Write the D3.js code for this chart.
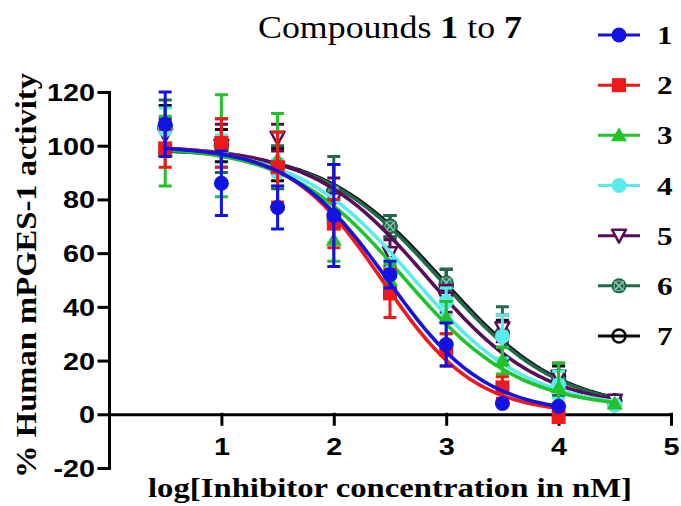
<!DOCTYPE html>
<html>
<head>
<meta charset="utf-8">
<script src="https://cdn.jsdelivr.net/npm/d3@7"></script>
<style>
  body { margin: 0; background: #fff; }
  svg { display: block; }
</style>
</head>
<body>
<svg id="chart" width="681" height="506"></svg>
<script>
// x = log10 of inhibitor concentration (nM)
var logConc = [0.5, 1, 1.5, 2, 2.5, 3, 3.5, 4, 4.5];
var compounds = ["1", "2", "3", "4", "5", "6", "7"];

// mean % activity and error, per compound (1 and 2 stop at 4)
var act1 = [108, 86, 77, 74, 52, 26, 4, 3];
var err1 = [12, 12, 8, 19, 5, 8, 0, 0];
var act2 = [99, 101, 92, 71, 45, 24, 10, -1];
var err2 = [7, 9, 13, 9, 9, 6, 4, 0];
var act3 = [98, 100, 95, 65, 50, 36, 20, 10, 4];
var err3 = [13, 19, 17, 8, 6, 6, 5, 9, 0];
var act4 = [106, 98, 90, 72, 53, 42, 29, 11, 3.5];
var err4 = [8, 6, 5, 8, 5, 5, 8, 5, 0];
var act5 = [104, 100, 103, 80, 60, 43, 32, 14, 5];
var err5 = [6, 8, 5, 8, 5, 5, 5, 5, 0];
var act6 = [107, 100, 92, 83, 70, 49, 30, 13, 3.5];
var err6 = [10, 10, 8, 13, 4, 5, 10, 6, 0];
var act7 = [107, 100, 93, 83, 70, 48, 30, 14, 5];
var err7 = [8, 6, 6, 10, 4, 6, 5, 4, 0];

// sigmoidal fit parameters
var fitTop = [100, 100, 100, 100, 100, 99, 99];
var fitBottom = [0, 0, 2, 2, 2, 1, 1];
var fitLogIC50 = [2.48, 2.43, 2.62, 2.7, 2.83, 2.95, 2.97];
var fitHill = [1.0, 1.05, 0.85, 0.85, 0.85, 0.82, 0.82];

var xTicks = [1, 2, 3, 4, 5];
var yTicks = [-20, 0, 20, 40, 60, 80, 100, 120];

var colors = ["#1212e2", "#f01818", "#22c22a", "#58ecec", "#5a0c5a", "#1d6b4b", "#0a0a0a"];
var shapes = ["circle", "square", "triangle", "circle", "triangleDown", "circleX", "openCircle"];

var acts = [act1, act2, act3, act4, act5, act6, act7];
var errs = [err1, err2, err3, err4, err5, err6, err7];

var svg = d3.select("#chart");
var x = d3.scaleLinear().domain([0, 5]).range([109, 671]);
var y = d3.scaleLinear().domain([-20, 120]).range([468, 92]);

var serif = "'Liberation Serif', 'Times New Roman', serif";
var sans = "'Liberation Sans', Arial, sans-serif";

function fitValue(i, lx){
  return fitBottom[i] + (fitTop[i] - fitBottom[i]) / (1 + Math.pow(10, (lx - fitLogIC50[i]) * fitHill[i]));
}

function drawMarker(g, shape, color, cx, cy){
  var m = g.append("g").attr("transform", "translate(" + cx + "," + cy + ")");
  switch(shape){
    case "circle":
      m.append("circle").attr("r", 7.5).attr("fill", color);
      break;
    case "square":
      m.append("rect").attr("x", -7).attr("y", -7).attr("width", 14).attr("height", 14).attr("fill", color);
      break;
    case "triangle":
      m.append("path").attr("d", "M0,-8L8,6L-8,6Z").attr("fill", color);
      break;
    case "triangleDown":
      m.append("path").attr("d", "M-7,-6L7,-6L0,7Z")
        .attr("fill", "#fff").attr("stroke", color).attr("stroke-width", 2.5).attr("stroke-linejoin", "round");
      break;
    case "circleX":
      m.append("circle").attr("r", 7.5).attr("fill", color);
      m.append("path").attr("d", "M-4.5,-4.5L4.5,4.5M-4.5,4.5L4.5,-4.5")
        .attr("stroke", "#8cc4ab").attr("stroke-width", 1.6);
      m.append("circle").attr("r", 5).attr("fill", "none").attr("stroke", "#8cc4ab").attr("stroke-width", 1);
      break;
    case "openCircle":
      m.append("circle").attr("r", 6.5).attr("fill", "none").attr("stroke", color).attr("stroke-width", 2.5);
      break;
  }
}

// plain hyphen minus like the original, not the unicode minus
var tickFmt = function(d){ return String(d); };

// axes
var yAxis = svg.append("g")
  .attr("transform", "translate(" + x(0) + ",0)")
  .call(d3.axisLeft(y).tickValues(yTicks).tickSize(10).tickSizeOuter(0).tickFormat(tickFmt));
yAxis.selectAll("text")
  .attr("x", null).attr("dy", null)
  .attr("text-anchor", "end")
  .attr("transform", "translate(-14,8.5) scale(1.2,1)")
  .style("font-family", sans).style("font-weight", "bold").style("font-size", "24px").attr("fill", "#000");

var xAxis = svg.append("g")
  .attr("transform", "translate(0," + y(0) + ")")
  .call(d3.axisBottom(x).tickValues(xTicks).tickSize(10).tickSizeOuter(0).tickFormat(tickFmt));
xAxis.selectAll("text")
  .attr("y", null).attr("dy", null)
  .attr("text-anchor", "middle")
  .attr("transform", "translate(0,41) scale(1.2,1)")
  .style("font-family", sans).style("font-weight", "bold").style("font-size", "24px").attr("fill", "#000");

svg.selectAll(".domain, .tick line")
  .attr("stroke", "#000").attr("stroke-width", 3).attr("stroke-linecap", "square");

// series, drawn from 7 down to 1 so compound 1 sits on top
var line = d3.line().x(function(d){ return x(d[0]); }).y(function(d){ return y(d[1]); });
var plot = svg.append("g");

for(var i = compounds.length - 1; i >= 0; i--){
  var color = colors[i];
  var vals = acts[i];
  var g = plot.append("g").attr("class", "series s" + compounds[i]);

  var xEnd = logConc[vals.length - 1];
  var curvePts = d3.range(logConc[0], xEnd + 0.0001, 0.02).map(function(lx){ return [lx, fitValue(i, lx)]; });
  g.append("path").datum(curvePts).attr("d", line)
    .attr("fill", "none").attr("stroke", color).attr("stroke-width", 3.6).attr("stroke-linecap", "round");

  vals.forEach(function(v, j){
    var e = errs[i][j];
    if(e > 0){
      var px = x(logConc[j]);
      g.append("path")
        .attr("d", "M" + px + "," + y(v - e) + "V" + y(v + e)
          + "M" + (px - 6.5) + "," + y(v + e) + "H" + (px + 6.5)
          + "M" + (px - 6.5) + "," + y(v - e) + "H" + (px + 6.5))
        .attr("fill", "none").attr("stroke", color).attr("stroke-width", 3);
    }
  });

  vals.forEach(function(v, j){
    drawMarker(g, shapes[i], color, x(logConc[j]), y(v));
  });
}

// legend
var legendY = d3.scaleLinear().domain([0, 6]).range([35, 336]);
var legend = svg.append("g");
compounds.forEach(function(c, i){
  var ly = legendY(i);
  legend.append("line").attr("x1", 598).attr("x2", 640).attr("y1", ly).attr("y2", ly)
    .attr("stroke", colors[i]).attr("stroke-width", 3);
  drawMarker(legend, shapes[i], colors[i], 619, ly);
  legend.append("text")
    .attr("transform", "translate(657," + (ly + 9) + ") scale(1.2,1)")
    .style("font-family", serif).style("font-weight", "bold").style("font-size", "26px")
    .text(c);
});

// title
var title = svg.append("text")
  .attr("x", 258).attr("y", 38)
  .attr("textLength", 264).attr("lengthAdjust", "spacingAndGlyphs")
  .style("font-family", serif).style("font-size", "31px");
title.append("tspan").text("Compounds ");
title.append("tspan").style("font-weight", "bold").text("1");
title.append("tspan").text(" to ");
title.append("tspan").style("font-weight", "bold").text("7");

// axis titles
svg.append("text")
  .attr("x", 148).attr("y", 497)
  .attr("textLength", 484).attr("lengthAdjust", "spacingAndGlyphs")
  .style("font-family", serif).style("font-weight", "bold").style("font-size", "28px")
  .text("log[Inhibitor concentration in nM]");

svg.append("text")
  .attr("transform", "translate(36,478) rotate(-90)")
  .attr("x", 0).attr("y", 0)
  .attr("textLength", 405).attr("lengthAdjust", "spacingAndGlyphs")
  .style("font-family", serif).style("font-weight", "bold").style("font-size", "30px")
  .text("% Human mPGES-1 activity");
</script>
</body>
</html>
